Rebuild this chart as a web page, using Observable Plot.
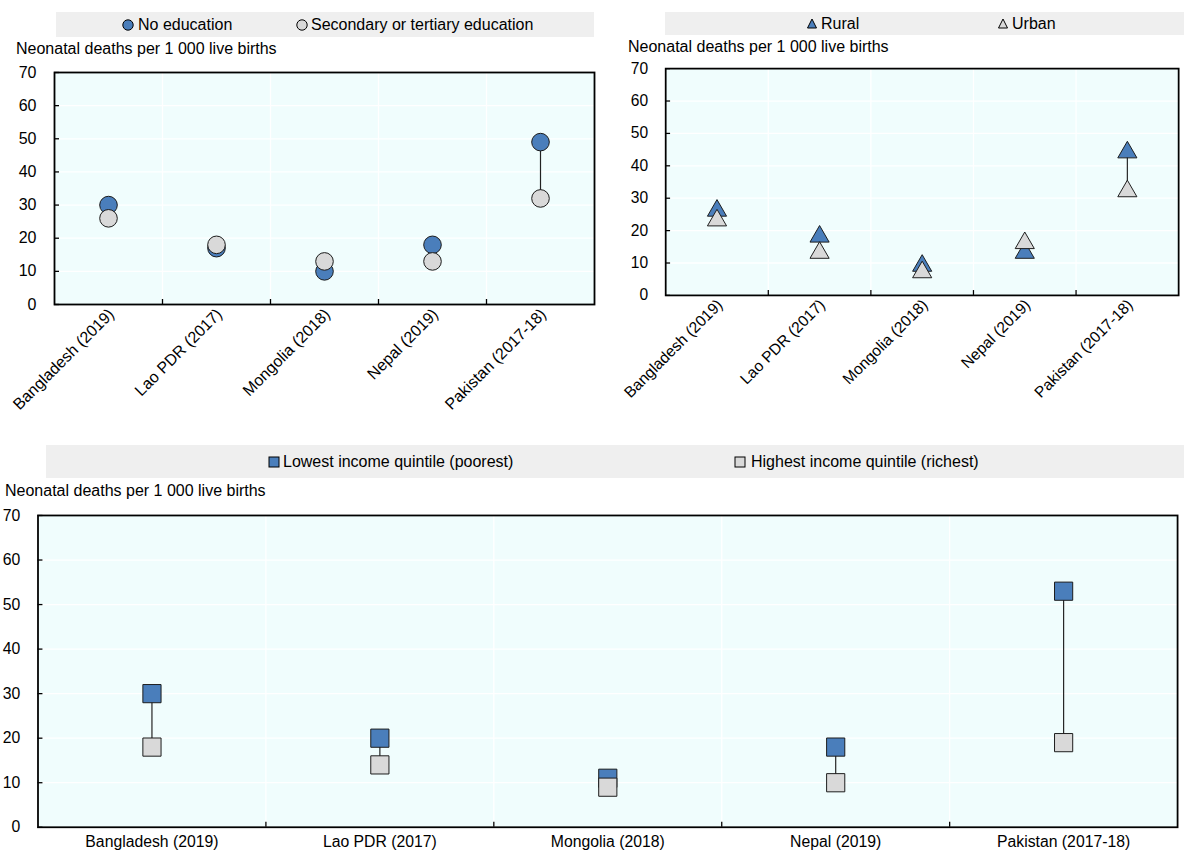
<!DOCTYPE html>
<html><head><meta charset="utf-8">
<script src="https://cdn.jsdelivr.net/npm/d3@7"></script>
<script src="https://cdn.jsdelivr.net/npm/@observablehq/plot@0.6"></script>
<style>
html,body{margin:0;padding:0;background:#fff;overflow:hidden;}
#root{position:relative;width:1184px;height:859px;overflow:hidden;background:#fff;}
.box{position:absolute;}
.legend{position:absolute;background:#efefef;}
.lab{position:absolute;white-space:nowrap;height:30px;line-height:30px;color:#000;}
svg.mk{position:absolute;overflow:visible;}
</style></head><body><div id="root"></div>
<script>
// ---- data ----
const countries = ["Bangladesh (2019)", "Lao PDR (2017)", "Mongolia (2018)", "Nepal (2019)", "Pakistan (2017-18)"];
const noEducation = [30, 17, 10, 18, 49];
const secondaryTertiary = [26, 18, 13, 13, 32];
const rural = [27, 19, 10, 14, 45];
const urban = [24, 14, 8, 17, 33];
const poorest = [30, 20, 11, 18, 53];
const richest = [18, 14, 9, 10, 19];
const yTicks = [0, 10, 20, 30, 40, 50, 60, 70];
const yLabel = "Neonatal deaths per 1 000 live births";
const legendEducation = ["No education", "Secondary or tertiary education"];
const legendArea = ["Rural", "Urban"];
const legendIncome = ["Lowest income quintile (poorest)", "Highest income quintile (richest)"];

// ---- style ----
const BLUE = "#4a7ebb", GREY = "#d9d9d9", BG = "#f0fdfd", EDGE = "#1a1a1a";
function hasFont(name) {
  const ctx = document.createElement("canvas").getContext("2d");
  const s = "abcdefghijklmnopqrstuvwxyz0123456789ABCDEFGHIJ";
  ctx.font = "40px monospace"; const a = ctx.measureText(s).width;
  ctx.font = `40px "${name}", monospace`; const b = ctx.measureText(s).width;
  return Math.abs(a - b) > 0.5;
}
const narrow = hasFont("Liberation Sans Narrow");
const FONT = narrow ? '"Liberation Sans Narrow", "Liberation Sans", Arial, sans-serif' : '"Liberation Sans", Arial, sans-serif';
const FS = narrow ? 19 : 16;

const root = document.getElementById("root");
root.style.fontFamily = FONT;
root.style.fontSize = FS + "px";

function addLabel(text, x, cy) {
  const d = document.createElement("div");
  d.className = "lab";
  d.style.left = x + "px";
  d.style.top = (cy - 15) + "px";
  d.textContent = text;
  root.appendChild(d);
}
function addBox(x, y, w, h) {
  const d = document.createElement("div");
  d.className = "legend";
  Object.assign(d.style, {left: x + "px", top: y + "px", width: w + "px", height: h + "px"});
  root.appendChild(d);
}
function addMarker(kind, fill, cx, cy) {
  const ns = "http://www.w3.org/2000/svg";
  const s = document.createElementNS(ns, "svg");
  s.setAttribute("class", "mk");
  s.setAttribute("width", 14); s.setAttribute("height", 14);
  s.style.left = (cx - 7) + "px"; s.style.top = (cy - 7) + "px";
  let el;
  if (kind === "circle") { el = document.createElementNS(ns, "circle"); el.setAttribute("cx", 7); el.setAttribute("cy", 7); el.setAttribute("r", 5.2); }
  else if (kind === "triangle") { el = document.createElementNS(ns, "polygon"); el.setAttribute("points", "7,2 2.5,11 11.5,11"); }
  else { el = document.createElementNS(ns, "rect"); el.setAttribute("x", 2); el.setAttribute("y", 2); el.setAttribute("width", 10); el.setAttribute("height", 10); }
  el.setAttribute("fill", fill); el.setAttribute("stroke", "#000"); el.setAttribute("stroke-width", 1);
  s.appendChild(el);
  root.appendChild(s);
}

const idx = d3.range(countries.length);
const boundaries = idx.slice(1).map(i => i - 0.5);

function panel({a, b, symbol, r, dy = 0, width, height, marginLeft, marginRight, marginTop, marginBottom, rotate, left, top}) {
  const rows = idx.map(i => ({i, a: a[i], b: b[i]}));
  const xLabels = rotate
    ? Plot.axisX({ticks: idx, tickFormat: i => countries[i], tickRotate: -45, tickSize: 0, tickPadding: 7, dx: 3, label: null, fontSize: FS, fill: "#000"})
    : Plot.axisX({ticks: idx, tickFormat: i => countries[i], tickSize: 0, tickPadding: 9, label: null, fontSize: FS, fill: "#000"});
  const chart = Plot.plot({
    width, height, marginLeft, marginRight, marginTop, marginBottom,
    style: {fontFamily: FONT, fontSize: FS + "px", color: "#000", background: "transparent", overflow: "visible"},
    x: {type: "linear", domain: [-0.5, countries.length - 0.5]},
    y: {type: "linear", domain: [0, 70]},
    marks: [
      Plot.frame({fill: BG, stroke: null}),
      Plot.ruleY(yTicks.slice(1, -1), {stroke: "#fff", strokeWidth: 1.3}),
      Plot.ruleX(boundaries, {stroke: "#fff", strokeWidth: 1.3}),
      Plot.axisY({ticks: yTicks, tickSize: 0, tickPadding: 18, label: null, fontSize: FS, fill: "#000"}),
      Plot.axisY({ticks: yTicks, tickSize: -5, tickFormat: () => "", label: null, stroke: "#000", strokeWidth: 1.3}),
      xLabels,
      Plot.axisX({ticks: boundaries, tickSize: -5, tickFormat: () => "", label: null, stroke: "#000", strokeWidth: 1.3}),
      Plot.frame({stroke: "#000", strokeWidth: 1.8}),
      Plot.ruleX(rows, {x: "i", y1: "a", y2: "b", stroke: "#222", strokeWidth: 1.2}),
      Plot.dot(rows, {x: "i", y: "a", symbol, r, fill: BLUE, stroke: EDGE, strokeWidth: 1, dy}),
      Plot.dot(rows, {x: "i", y: "b", symbol, r, fill: GREY, stroke: EDGE, strokeWidth: 1, dy})
    ]
  });
  const wrap = document.createElement("div");
  wrap.className = "box";
  wrap.style.left = left + "px"; wrap.style.top = top + "px";
  wrap.appendChild(chart);
  root.appendChild(wrap);
}

// Panel A: education
addBox(56, 12, 538, 25);
addMarker("circle", BLUE, 128, 25); addLabel(legendEducation[0], 138, 25);
addMarker("circle", GREY, 301.6, 25); addLabel(legendEducation[1], 311, 25);
addLabel(yLabel, 16, 49);
panel({a: noEducation, b: secondaryTertiary, symbol: "circle", r: 8.8, width: 600, height: 430,
  marginLeft: 54, marginRight: 6, marginTop: 72, marginBottom: 126, rotate: true, left: 0, top: 0});

// Panel B: area
addBox(665, 12, 540, 23);
addMarker("triangle", BLUE, 812, 24); addLabel(legendArea[0], 821, 24);
addMarker("triangle", GREY, 1003, 24); addLabel(legendArea[1], 1012, 24);
addLabel(yLabel, 628, 47);
panel({a: rural, b: urban, symbol: "triangle", r: 7.3, dy: 2.8, width: 600, height: 430,
  marginLeft: 67, marginRight: 6, marginTop: 70, marginBottom: 127, rotate: true, left: 600, top: 0});

// Panel C: income
addBox(46, 445, 1160, 33);
addMarker("square", BLUE, 273.6, 462); addLabel(legendIncome[0], 283, 462);
addMarker("square", GREY, 740, 462); addLabel(legendIncome[1], 751, 462);
addLabel(yLabel, 5, 491);
panel({a: poorest, b: richest, symbol: "square", r: 10.4, width: 1200, height: 419,
  marginLeft: 38, marginRight: 7, marginTop: 76, marginBottom: 27, rotate: false, left: 0, top: 440});
</script></body></html>
